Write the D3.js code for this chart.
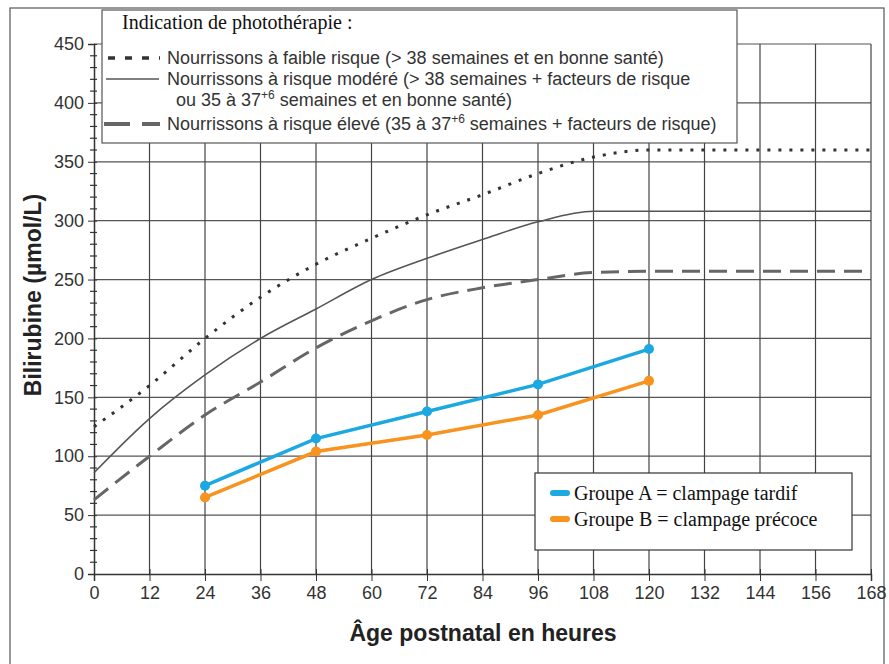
<!DOCTYPE html>
<html>
<head>
<meta charset="utf-8">
<script src="https://cdn.jsdelivr.net/npm/d3@7"></script>
<style>
  body { margin: 0; background: #fff; }
  svg { display: block; }
</style>
</head>
<body>
<svg id="chart" width="889" height="664"></svg>
<script>
// x: postnatal age (h), y: bilirubin (µmol/L)
var hours = [0, 12, 24, 36, 48, 60, 72, 84, 96, 108, 120, 132, 144, 156, 168];
var lowRisk = [125, 160, 200, 235, 263, 285, 305, 322, 340, 354, 360, 360, 360, 360, 360];
var medRisk = [86, 132, 169, 200, 225, 250, 268, 284, 299, 308, 308, 308, 308, 308, 308];
var highRisk = [63, 100, 135, 163, 192, 215, 233, 243, 250, 256, 257, 257, 257, 257, 257];

var groupHours = [24, 48, 72, 96, 120];
var groupA = [75, 115, 138, 161, 191];
var groupB = [65, 104, 118, 135, 164];

var xTicks = [0, 12, 24, 36, 48, 60, 72, 84, 96, 108, 120, 132, 144, 156, 168];
var yTicks = [0, 50, 100, 150, 200, 250, 300, 350, 400, 450];

var svg = d3.select("#chart");

var x = d3.scaleLinear().domain([0, 168]).range([94, 871]);
var y = d3.scaleLinear().domain([0, 450]).range([574, 44]);

var sans = "Liberation Sans, Arial, sans-serif";
var serif = "Liberation Serif, Times New Roman, serif";

// outer frame
svg.append("rect")
    .attr("x", 10).attr("y", 8)
    .attr("width", 874).attr("height", 670)
    .attr("fill", "none").attr("stroke", "#555").attr("stroke-width", 1.2);

// grid
svg.append("g").selectAll("line")
    .data(yTicks.slice(1))
    .enter().append("line")
    .attr("x1", x(0)).attr("x2", x(168))
    .attr("y1", function (d) { return y(d); })
    .attr("y2", function (d) { return y(d); })
    .attr("stroke", "#555").attr("stroke-width", 1.2);

svg.append("g").selectAll("line")
    .data(xTicks.slice(1))
    .enter().append("line")
    .attr("x1", function (d) { return x(d); })
    .attr("x2", function (d) { return x(d); })
    .attr("y1", y(0)).attr("y2", y(450))
    .attr("stroke", "#444").attr("stroke-width", 1.2);

// axes
var xAxis = d3.axisBottom(x).tickValues(xTicks).tickSize(7).tickPadding(5);
var gx = svg.append("g").attr("transform", "translate(0," + y(0) + ")").call(xAxis);
gx.select(".domain").attr("stroke", "#333").attr("stroke-width", 1.5);
gx.selectAll(".tick line").attr("stroke", "#333").attr("y1", -5);
gx.selectAll("text").attr("font-family", sans)
    .attr("font-size", 18).attr("fill", "#333");

var yAxis = d3.axisLeft(y).tickValues(yTicks).tickSize(6).tickPadding(4);
var gy = svg.append("g").attr("transform", "translate(" + x(0) + ",0)").call(yAxis);
gy.select(".domain").attr("stroke", "#333").attr("stroke-width", 1.5);
gy.selectAll(".tick line").attr("stroke", "#333").attr("x2", -6).attr("x1", 3);
gy.selectAll("text").attr("font-family", sans)
    .attr("font-size", 18).attr("fill", "#333");

// minor ticks every 10
var minor = d3.range(0, 451, 10).filter(function (d) { return d % 50 !== 0; });
svg.append("g").selectAll("line")
    .data(minor)
    .enter().append("line")
    .attr("x1", x(0) - 4).attr("x2", x(0) + 3)
    .attr("y1", function (d) { return y(d); })
    .attr("y2", function (d) { return y(d); })
    .attr("stroke", "#333").attr("stroke-width", 1.2);

// reference curves
var line = d3.line()
    .x(function (d) { return x(d[0]); })
    .y(function (d) { return y(d[1]); })
    .curve(d3.curveMonotoneX);

function zipData(xs, ys) {
    return xs.map(function (h, i) { return [h, ys[i]]; });
}

svg.append("path").datum(zipData(hours, medRisk))
    .attr("d", line).attr("fill", "none")
    .attr("stroke", "#555").attr("stroke-width", 1.6);

svg.append("path").datum(zipData(hours, highRisk))
    .attr("d", line).attr("fill", "none")
    .attr("stroke", "#666").attr("stroke-width", 3)
    .attr("stroke-dasharray", "18,9");

svg.append("path").datum(zipData(hours, lowRisk))
    .attr("d", line).attr("fill", "none")
    .attr("stroke", "#333").attr("stroke-width", 3)
    .attr("stroke-dasharray", "3,8");

// study groups
var groups = [
    { name: "Groupe A = clampage tardif", values: groupA, color: "#1ca8e0" },
    { name: "Groupe B = clampage précoce", values: groupB, color: "#f7931e" }
];

var straight = d3.line()
    .x(function (d) { return x(d[0]); })
    .y(function (d) { return y(d[1]); });

groups.forEach(function (g) {
    var pts = zipData(groupHours, g.values);
    svg.append("path").datum(pts)
        .attr("d", straight).attr("fill", "none")
        .attr("stroke", g.color).attr("stroke-width", 3.5);
    svg.append("g").selectAll("circle")
        .data(pts)
        .enter().append("circle")
        .attr("cx", function (d) { return x(d[0]); })
        .attr("cy", function (d) { return y(d[1]); })
        .attr("r", 5)
        .attr("fill", g.color);
});

// axis titles
svg.append("text")
    .attr("transform", "translate(41,295) rotate(-90)")
    .attr("text-anchor", "middle")
    .attr("font-family", sans)
    .attr("font-size", 23).attr("font-weight", "bold").attr("fill", "#222")
    .text("Bilirubine (µmol/L)");

svg.append("text")
    .attr("x", 483).attr("y", 641)
    .attr("text-anchor", "middle")
    .attr("font-family", sans)
    .attr("font-size", 23).attr("font-weight", "bold").attr("fill", "#222")
    .text("Âge postnatal en heures");

// top legend (phototherapy)
var lg = svg.append("g");
lg.append("rect")
    .attr("x", 102).attr("y", 10).attr("width", 635).attr("height", 133)
    .attr("fill", "#fff").attr("stroke", "#555").attr("stroke-width", 1.2);
lg.append("text")
    .attr("x", 122).attr("y", 29)
    .attr("font-family", serif)
    .attr("font-size", 20).attr("fill", "#111")
    .text("Indication de photothérapie :");

lg.append("line").attr("x1", 108).attr("x2", 160).attr("y1", 58).attr("y2", 58)
    .attr("stroke", "#333").attr("stroke-width", 3.5).attr("stroke-dasharray", "7,10");
lg.append("line").attr("x1", 106).attr("x2", 159).attr("y1", 79).attr("y2", 79)
    .attr("stroke", "#555").attr("stroke-width", 1.4);
lg.append("line").attr("x1", 104).attr("x2", 160).attr("y1", 124).attr("y2", 124)
    .attr("stroke", "#666").attr("stroke-width", 4).attr("stroke-dasharray", "26,12");

function legendText(yy, xx) {
    return lg.append("text").attr("x", xx).attr("y", yy)
        .attr("font-family", sans).attr("font-size", 18).attr("fill", "#333");
}
legendText(64, 167).text("Nourrissons à faible risque (> 38 semaines et en bonne santé)");
legendText(85, 167).text("Nourrissons à risque modéré (> 38 semaines + facteurs de risque");
var t3 = legendText(106, 176);
t3.append("tspan").text("ou 35 à 37");
t3.append("tspan").attr("dy", -7).attr("font-size", 12).text("+6");
t3.append("tspan").attr("dy", 7).text(" semaines et en bonne santé)");
var t4 = legendText(130, 167);
t4.append("tspan").text("Nourrissons à risque élevé (35 à 37");
t4.append("tspan").attr("dy", -7).attr("font-size", 12).text("+6");
t4.append("tspan").attr("dy", 7).text(" semaines + facteurs de risque)");

// bottom legend (groups)
var lb = svg.append("g");
lb.append("rect")
    .attr("x", 535).attr("y", 473).attr("width", 317).attr("height", 77)
    .attr("fill", "#fff").attr("stroke", "#333").attr("stroke-width", 1.2);
groups.forEach(function (g, i) {
    var yy = 493 + i * 26;
    lb.append("line").attr("x1", 553).attr("x2", 567).attr("y1", yy).attr("y2", yy)
        .attr("stroke", g.color).attr("stroke-width", 6).attr("stroke-linecap", "round");
    lb.append("text").attr("x", 574).attr("y", yy + 7)
        .attr("font-family", serif)
        .attr("font-size", 20).attr("fill", "#111")
        .text(g.name);
});
</script>
</body>
</html>
